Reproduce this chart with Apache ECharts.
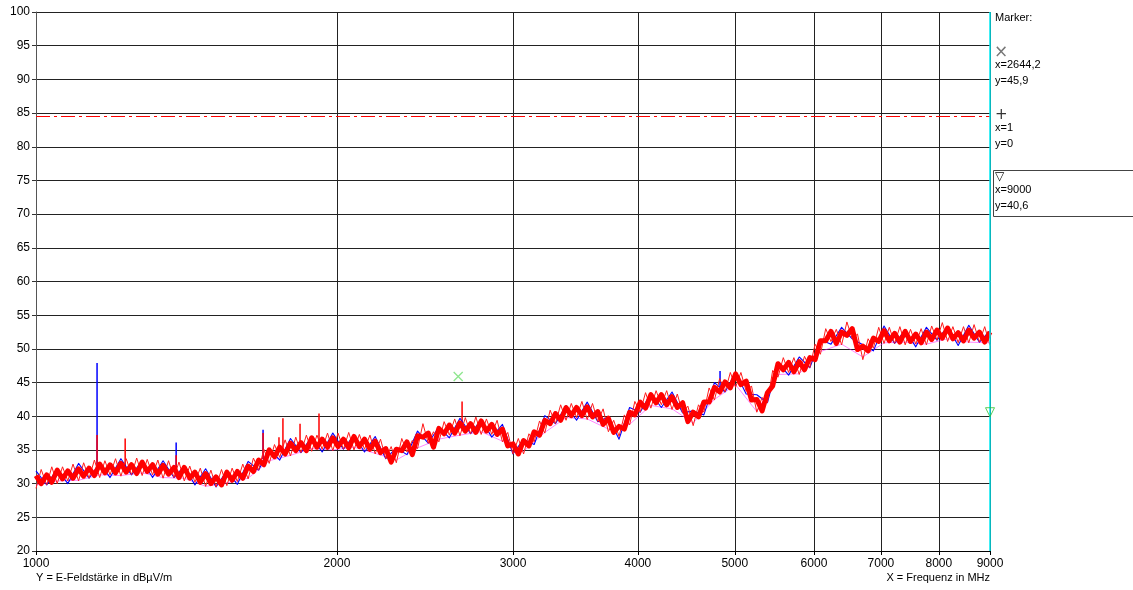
<!DOCTYPE html>
<html>
<head>
<meta charset="utf-8">
<script src="https://cdn.jsdelivr.net/npm/echarts@6/dist/echarts.min.js"></script>
<style>
  html, body { margin: 0; padding: 0; background: #fff; }
  #chart { width: 1133px; height: 590px; }
</style>
</head>
<body>
<div id="chart"></div>
<script>
// Frequenzraster (MHz), logarithmisch verteilt
const freqs = [
  1000, 1012, 1025, 1037, 1050, 1063, 1076, 1089, 1103, 1116,
  1130, 1144, 1158, 1172, 1186, 1201, 1216, 1231, 1246, 1261,
  1277, 1292, 1308, 1324, 1340, 1357, 1374, 1390, 1407, 1425,
  1442, 1460, 1478, 1496, 1514, 1533, 1552, 1571, 1590, 1610,
  1630, 1650, 1670, 1690, 1711, 1732, 1753, 1775, 1797, 1819,
  1841, 1864, 1887, 1910, 1933, 1957, 1981, 2005, 2030, 2055,
  2080, 2106, 2131, 2158, 2184, 2211, 2238, 2266, 2293, 2322,
  2350, 2379, 2408, 2438, 2468, 2498, 2529, 2560, 2591, 2623,
  2655, 2688, 2721, 2754, 2788, 2822, 2857, 2892, 2928, 2964,
  3000, 3037, 3074, 3112, 3150, 3189, 3228, 3268, 3308, 3348,
  3390, 3431, 3473, 3516, 3559, 3603, 3647, 3692, 3737, 3783,
  3830, 3877, 3924, 3972, 4021, 4071, 4121, 4171, 4222, 4274,
  4327, 4380, 4434, 4488, 4543, 4599, 4656, 4713, 4771, 4829,
  4889, 4949, 5009, 5071, 5133, 5196, 5260, 5325, 5390, 5456,
  5523, 5591, 5660, 5729, 5800, 5871, 5943, 6016, 6090, 6165,
  6240, 6317, 6395, 6473, 6553, 6633, 6715, 6797, 6880, 6965,
  7051, 7137, 7225, 7313, 7403, 7494, 7586, 7680, 7774, 7869,
  7966, 8064, 8163, 8263, 8364, 8467, 8571, 8676, 8783, 8891,
  9000
];

// Messkurve rot (dBµV/m), Kern des Bandes
const levelRed = [
  31.2, 30.0, 31.3, 30.2, 32.0, 30.7, 31.9, 30.8, 32.2, 31.1,
  32.3, 31.2, 32.9, 31.6, 32.8, 31.6, 33.0, 31.7, 32.8, 31.5,
  33.2, 31.8, 32.8, 31.4, 32.7, 31.4, 32.4, 30.9, 32.4, 30.8,
  31.7, 30.2, 31.5, 30.0, 31.0, 29.8, 31.7, 30.5, 31.8, 30.8,
  32.6, 31.8, 33.5, 32.8, 35.0, 34.0, 35.4, 34.4, 36.0, 34.9,
  36.1, 34.9, 36.8, 35.4, 36.6, 35.4, 36.8, 35.5, 36.6, 35.3,
  37.0, 35.5, 36.6, 35.1, 36.3, 34.6, 35.2, 33.2, 35.1, 34.9,
  36.2, 34.3, 37.1, 36.9, 37.5, 35.4, 38.2, 37.4, 38.7, 37.5,
  39.0, 37.8, 38.9, 37.6, 39.3, 37.8, 38.8, 37.3, 38.1, 35.6,
  35.9, 34.4, 36.4, 35.6, 37.7, 37.2, 39.4, 38.9, 40.4, 39.4,
  41.3, 40.1, 41.3, 40.1, 41.4, 39.9, 40.7, 38.8, 39.7, 37.6,
  38.5, 38.1, 40.6, 40.2, 42.1, 41.2, 43.2, 42.0, 43.2, 41.7,
  42.9, 41.3, 42.0, 39.2, 40.6, 39.9, 42.1, 42.1, 44.3, 43.6,
  45.1, 44.2, 46.3, 44.7, 45.2, 42.4, 42.5, 40.8, 43.5, 44.5,
  47.8, 46.9, 48.0, 46.6, 48.1, 46.9, 48.7, 48.4, 51.2, 51.2,
  52.6, 50.8, 52.5, 52.0, 53.0, 49.9, 50.4, 49.7, 51.6, 51.1,
  52.7, 51.2, 52.3, 51.0, 52.6, 51.1, 52.2, 50.9, 52.5, 51.4,
  52.8, 51.6, 53.1, 51.5, 52.4, 51.2, 52.8, 51.6, 52.5, 51.0,
  52.5
];

// Messkurve rot, Rauschspitzen am Rand des Bandes
const levelRedFringe = [
  29.3, 32.1, 29.8, 32.5, 30.0, 32.5, 30.4, 32.9, 30.4, 33.1,
  30.8, 33.5, 30.9, 33.4, 31.3, 33.7, 31.1, 33.7, 31.3, 33.8,
  31.2, 33.6, 31.3, 33.5, 30.8, 33.4, 30.9, 33.2, 30.4, 32.6,
  30.2, 32.3, 29.6, 32.0, 29.5, 32.1, 29.7, 32.3, 30.3, 32.9,
  30.7, 33.8, 32.0, 35.1, 33.0, 35.8, 33.9, 36.5, 34.1, 36.9,
  34.6, 37.2, 34.8, 37.2, 35.1, 37.5, 34.9, 37.5, 35.1, 37.6,
  35.0, 37.3, 35.1, 37.2, 34.4, 36.6, 33.7, 35.5, 33.1, 36.7,
  34.7, 36.4, 35.2, 38.9, 36.0, 37.7, 36.2, 39.2, 37.2, 39.6,
  37.1, 39.8, 37.4, 39.9, 37.3, 39.6, 37.3, 39.4, 36.2, 37.6,
  34.4, 36.7, 34.4, 37.4, 36.2, 39.3, 37.5, 40.9, 38.9, 41.7,
  39.4, 41.9, 39.8, 42.2, 39.5, 41.9, 39.2, 41.1, 37.7, 39.4,
  37.0, 40.2, 38.7, 42.2, 40.6, 43.5, 41.2, 43.8, 41.7, 43.8,
  41.0, 43.3, 40.5, 41.5, 38.6, 41.7, 40.6, 44.2, 42.4, 45.6,
  43.6, 46.5, 44.3, 46.5, 43.7, 44.5, 40.6, 42.8, 42.0, 46.8,
  45.8, 48.7, 46.5, 48.7, 46.2, 48.9, 47.2, 50.7, 49.2, 53.0,
  51.1, 52.9, 50.6, 54.0, 51.5, 52.2, 48.4, 51.5, 50.1, 53.2,
  50.8, 53.2, 50.8, 53.3, 50.6, 52.9, 50.7, 53.0, 50.6, 53.4,
  51.3, 53.9, 51.1, 53.3, 50.9, 53.3, 50.9, 53.6, 51.0, 53.3,
  50.5
];

// Messkurve blau, jede zweite Frequenz
const levelBlue = [
  31.9, 29.8, 32.2, 30.0, 33.0, 30.8, 33.1, 30.9, 33.7, 31.3,
  33.4, 30.9, 33.4, 30.9, 32.6, 29.8, 32.2, 29.5, 31.9, 29.9,
  33.3, 32.0, 35.2, 33.5, 36.7, 34.6, 37.0, 34.7, 37.5, 35.1,
  37.2, 34.7, 37.0, 33.7, 35.3, 34.3, 37.8, 36.0, 38.4, 36.8,
  39.7, 37.4, 39.5, 36.9, 38.8, 34.4, 36.6, 35.8, 40.1, 38.9,
  41.6, 39.4, 42.1, 39.2, 39.9, 36.6, 41.3, 40.6, 43.4, 41.3,
  43.6, 40.5, 40.8, 40.2, 45.0, 43.6, 46.5, 43.3, 43.2, 42.0,
  48.0, 46.1, 48.8, 47.2, 51.4, 50.7, 53.2, 51.5, 50.6, 49.7,
  53.4, 50.8, 52.8, 50.3, 53.2, 51.3, 53.3, 50.5, 53.5, 51.0,
  52.7
];

// Messkurve magenta, jede vierte Frequenz
const levelMagenta = [
  29.8, 30.4, 30.5, 31.3, 31.2, 31.6, 30.9, 30.8, 29.6, 30.1,
  30.8, 33.4, 34.2, 35.2, 35.0, 35.4, 34.5, 33.5, 35.3, 36.6,
  37.2, 37.7, 36.3, 34.8, 37.6, 39.8, 39.6, 38.1, 38.8, 41.6,
  41.1, 39.0, 42.5, 44.7, 40.7, 46.2, 46.3, 49.6, 50.7, 48.8,
  50.9, 51.0, 50.7, 51.5, 51.0, 50.9
];

// Einzelne Spitzen: Frequenz, Fuss, Spitze
const spikeBlueFreq = [1151, 1381, 1687, 4833];
const spikeBlueBase = [32.0, 31.8, 33.6, 44.2];
const spikeBlueTop = [47.9, 36.1, 38.0, 46.7];

const spikeRedFreq = [1151, 1228, 1381, 1687, 1750, 1766, 1837, 1919, 2668];
const spikeRedBase = [32.0, 32.3, 31.8, 33.6, 34.8, 35.0, 35.6, 35.9, 38.3];
const spikeRedTop = [37.2, 36.7, 34.2, 37.5, 36.9, 39.7, 38.9, 40.4, 42.2];

// Achsen und Marker
const xTicks = [1000, 2000, 3000, 4000, 5000, 6000, 7000, 8000, 9000];
const limitLevel = 84.5;
const markerCross = [2644.2, 45.9];
const markerTriangle = [9000, 40.6];

const chart = echarts.init(document.getElementById('chart'), null, { renderer: 'canvas' });

const FONT = '11px "Liberation Sans", Arial, sans-serif';

function spikeSeries(name, fr, base, top, color) {
  return {
    name: name,
    type: 'custom',
    data: fr.map((f, i) => [f, base[i], top[i]]),
    renderItem: function (params, api) {
      const p0 = api.coord([api.value(0), api.value(1)]);
      const p1 = api.coord([api.value(0), api.value(2)]);
      return {
        type: 'line',
        shape: { x1: p0[0], y1: p0[1], x2: p1[0], y2: p1[1] },
        style: { stroke: color, lineWidth: 1.5 }
      };
    }
  };
}

function trace(name, data, color, width, opacity) {
  return {
    name: name,
    type: 'line',
    data: data,
    showSymbol: false,
    symbol: 'none',
    lineStyle: { color: color, width: width, join: 'round', opacity: opacity == null ? 1 : opacity }
  };
}

const option = {
  animation: false,
  grid: { left: 36, right: 143, top: 12, bottom: 39, containLabel: false },
  xAxis: {
    type: 'log',
    logBase: 10,
    min: 1000,
    max: 9000,
    axisLine: { show: true, onZero: false, lineStyle: { color: '#000', width: 1 } },
    axisTick: { show: true, customValues: xTicks, length: 4, lineStyle: { color: '#000' } },
    axisLabel: {
      customValues: xTicks, color: '#000', fontSize: 12,
      fontFamily: '"Liberation Sans", Arial, sans-serif', margin: 7,
      formatter: v => String(Math.round(v))
    },
    splitLine: { show: true, lineStyle: { color: '#222', width: 1 } }
  },
  yAxis: {
    type: 'value',
    min: 20,
    max: 100,
    interval: 5,
    axisLine: { show: true, lineStyle: { color: '#555', width: 1 } },
    axisTick: { show: true, length: 4, lineStyle: { color: '#333' } },
    axisLabel: { color: '#000', fontSize: 12, fontFamily: '"Liberation Sans", Arial, sans-serif', margin: 6 },
    splitLine: { show: true, lineStyle: { color: '#222', width: 1 } }
  },
  series: [
    Object.assign(trace('magenta', levelMagenta.map((v, i) => [freqs[4 * i], v]), '#ff00ff', 0.8, 0.6), {
      markLine: {
        silent: true,
        symbol: 'none',
        label: { show: false },
        data: [
          { yAxis: limitLevel, lineStyle: { color: '#ff0000', width: 1, type: [14, 4, 3, 4], opacity: 1 } },
          { xAxis: 9000, lineStyle: { color: '#00e8f0', width: 1.5, type: 'solid', opacity: 1 } }
        ]
      }
    }),
    trace('blau', levelBlue.map((v, i) => [freqs[2 * i], v]), '#0000ff', 1.1),
    spikeSeries('blau Spitzen', spikeBlueFreq, spikeBlueBase, spikeBlueTop, '#0000ff'),
    trace('rot Rand', freqs.map((f, i) => [f, levelRedFringe[i]]), '#ff1a1a', 1),
    trace('rot', freqs.map((f, i) => [f, levelRed[i]]), '#ff0000', 5),
    spikeSeries('rot Spitzen', spikeRedFreq, spikeRedBase, spikeRedTop, '#ff0000'),
    {
      name: 'Marker X',
      type: 'scatter',
      data: [markerCross],
      symbol: 'path://M0,0L10,10M10,0L0,10',
      symbolSize: 9,
      itemStyle: { color: 'transparent', borderColor: '#70e070', borderWidth: 1.3 },
      z: 5
    },
    {
      name: 'Marker Dreieck',
      type: 'scatter',
      data: [markerTriangle],
      symbol: 'triangle',
      symbolRotate: 180,
      symbolSize: 9,
      clip: false,
      itemStyle: { color: 'transparent', borderColor: '#30c030', borderWidth: 1 },
      z: 5
    }
  ],
  graphic: [
    { type: 'text', style: { x: 995, y: 18, text: 'Marker:', font: FONT, fill: '#000', verticalAlign: 'middle' } },
    { type: 'text', style: { x: 994, y: 53, text: '×', font: '17px "DejaVu Sans", sans-serif', fill: '#777', verticalAlign: 'middle' } },
    { type: 'text', style: { x: 995, y: 65, text: 'x=2644,2', font: FONT, fill: '#000', verticalAlign: 'middle' } },
    { type: 'text', style: { x: 995, y: 81, text: 'y=45,9', font: FONT, fill: '#000', verticalAlign: 'middle' } },
    { type: 'text', style: { x: 995, y: 115, text: '+', font: '15px "DejaVu Sans", sans-serif', fill: '#333', verticalAlign: 'middle' } },
    { type: 'text', style: { x: 995, y: 128, text: 'x=1', font: FONT, fill: '#000', verticalAlign: 'middle' } },
    { type: 'text', style: { x: 995, y: 144, text: 'y=0', font: FONT, fill: '#000', verticalAlign: 'middle' } },
    { type: 'rect', shape: { x: 993.5, y: 170.5, width: 150, height: 46 }, style: { fill: 'none', stroke: '#444', lineWidth: 1 } },
    { type: 'text', style: { x: 995, y: 177, text: '▽', font: '12px "DejaVu Sans", sans-serif', fill: '#000', verticalAlign: 'middle' } },
    { type: 'text', style: { x: 995, y: 190, text: 'x=9000', font: FONT, fill: '#000', verticalAlign: 'middle' } },
    { type: 'text', style: { x: 995, y: 206, text: 'y=40,6', font: FONT, fill: '#000', verticalAlign: 'middle' } },
    { type: 'text', style: { x: 36, y: 578, text: 'Y = E-Feldstärke in dBµV/m', font: FONT, fill: '#000', verticalAlign: 'middle' } },
    { type: 'text', style: { x: 990, y: 578, text: 'X = Frequenz in MHz', font: FONT, fill: '#000', align: 'right', verticalAlign: 'middle' } }
  ]
};

chart.setOption(option);
window.addEventListener('resize', () => chart.resize());
</script>
</body>
</html>
